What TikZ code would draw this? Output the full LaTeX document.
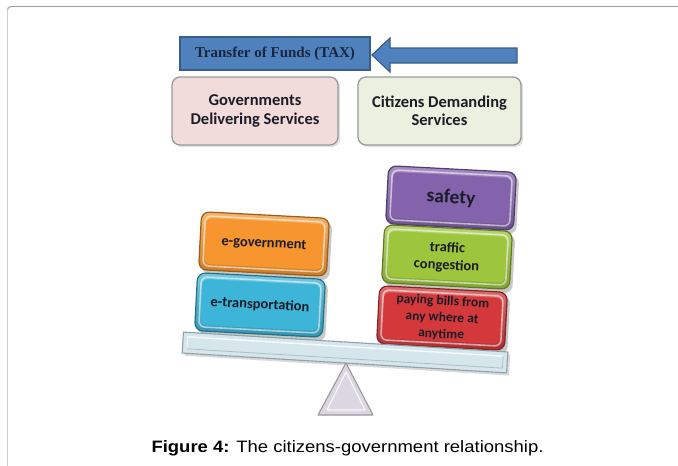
\documentclass[tikz,border=0pt]{standalone}
\usepackage{fontspec}
\usepackage{graphicx}
\setmainfont{Carlito}
\newfontfamily\serifb{Liberation Serif}
\newfontfamily\capfont{Liberation Sans}
\usetikzlibrary{shadows}

\definecolor{taxblue}{HTML}{4F81BD}
\definecolor{taxborder}{HTML}{385D8A}
\definecolor{taxtext}{HTML}{1A2540}
\definecolor{pinkbox}{HTML}{F2DCDB}
\definecolor{greenbox}{HTML}{EBF1DE}
\definecolor{hdrborder}{HTML}{9A9A9A}
\definecolor{orangec}{HTML}{F7962E}
\definecolor{cyanc}{HTML}{3DB5D8}
\definecolor{purplec}{HTML}{8363AC}
\definecolor{greenc}{HTML}{9DC63C}
\definecolor{redc}{HTML}{D4383A}
\definecolor{plankc}{HTML}{D5E6EC}
\definecolor{plankb}{HTML}{8FA2A8}
\definecolor{fulcc}{HTML}{DAD6E2}
\definecolor{boxtext}{HTML}{1C1C28}

\tikzset{
  hdrbox/.style={draw=hdrborder, line width=1.3pt, rounded corners=8pt,
    align=center, text=boxtext, font=\bfseries\fontsize{16.5}{18.5}\selectfont,
    drop shadow={opacity=0.25, shadow xshift=2pt, shadow yshift=-2pt}},
  hilite/.style={white, opacity=0.55, line width=1.6pt, rounded corners=6pt},
}

% name, cx, cy, colour, font, text
\newcommand\glossbox[6]{%
\begin{scope}[shift={(#2,#3)}, rotate=-3]
  \fill[black, opacity=0.22, rounded corners=8pt] (-61,-26) rectangle (67,33);
  \shade[rounded corners=8pt, draw=#4!62!black, line width=1.2pt,
    top color=#4!72!white, middle color=#4, bottom color=#4!82!black]
    (-64,-29) rectangle (64,29);
  \fill[#4, rounded corners=6pt] (-59,-23) rectangle (59,23);
  \draw[hilite] (-60,-25) rectangle (60,25);
  \node[transform shape, align=center, text=boxtext, font=#5] (#1) at (0,0) {#6};
\end{scope}}

\begin{document}
\begin{tikzpicture}[x=1pt, y=-1pt]
\useasboundingbox (0,0) rectangle (678,466);

% page frame
\draw[gray!75, line width=1.5pt] (11,6.5) -- (678,6.5);
\draw[gray!40, line width=1.5pt] (7.5,10) -- (7.5,466);
\draw[gray!55, line width=1.5pt] (7.5,10) arc[start angle=180, end angle=90, radius=3.5pt];

% transfer of funds
\node[draw=taxborder, line width=1.2pt, fill=taxblue, minimum width=190pt,
  minimum height=33pt, inner sep=0pt, text=taxtext,
  font=\serifb\bfseries\fontsize{15}{17}\selectfont] (tax) at (275,53.5)
  {Transfer of Funds (TAX)};
\coordinate (tip) at (372,55);
\draw[draw=taxborder, line width=1.2pt, fill=taxblue]
  (tip) -- (390,38) -- (390,48) -- (517,48) -- (517,63) -- (390,63) -- (390,72) -- cycle;

% header boxes
\node[hdrbox, fill=pinkbox, minimum width=166pt, minimum height=68pt] (gov) at (255,111)
  {Governments\\Delivering Services};
\node[hdrbox, fill=greenbox, minimum width=163pt, minimum height=68pt] (cit) at (439.5,111)
  {Citizens Demanding\\Services};

% stacked boxes
\glossbox{egov}{264}{244}{orangec}{\bfseries\fontsize{14.5}{17}\selectfont}{e-government}
\glossbox{etrans}{260}{305}{cyanc}{\bfseries\fontsize{14.5}{17}\selectfont}{e-transportation}
\glossbox{safety}{451}{198}{purplec}{\bfseries\fontsize{19.5}{22}\selectfont}{safety}
\glossbox{traffic}{447}{257}{greenc}{\bfseries\fontsize{14.5}{17.5}\selectfont}{traffic\\congestion}
\glossbox{bills}{442}{318}{redc}{\bfseries\fontsize{13.5}{16.5}\selectfont}{paying bills from\\any where at\\anytime}

% plank
\begin{scope}[shift={(345,352.5)}, rotate=-3.5]
  \fill[black, opacity=0.15] (-160,-8) rectangle (165,13);
  \draw[draw=plankb, line width=1.1pt, fill=plankc] (-162.5,-10.5) rectangle (162.5,10.5);
  \draw[white, line width=1.4pt, opacity=0.8] (-158,-6) -- (158,-6);
  \draw[white, line width=1.2pt, opacity=0.6] (-158,-6) -- (-158,6);
  \draw[plankb!70, line width=0.8pt] (-158,6) -- (158,6) -- (158,-6);
\end{scope}

% fulcrum
\coordinate (apex) at (346,363);
\coordinate (bl) at (318,415);
\coordinate (br) at (373,415);
\draw[draw=gray!80, line width=1.1pt, fill=fulcc, line join=round] (apex) -- (br) -- (bl) -- cycle;
\draw[white, line width=1.2pt, opacity=0.8, line join=round] (346,372) -- (327,410) -- (365,410) -- cycle;

% caption
\node[anchor=base, font=\capfont\fontsize{16.5}{18}\selectfont] (cap) at (347.5,452.5)
  {\scalebox{1.12}[1]{\textbf{Figure 4:} The citizens-government relationship.}};
\end{tikzpicture}
\end{document}
